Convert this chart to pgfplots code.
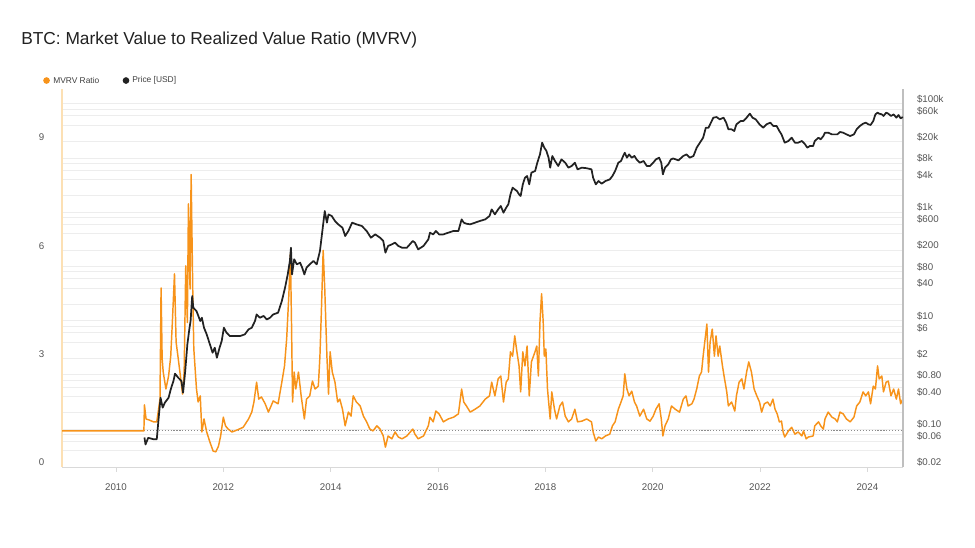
\documentclass[border=0pt]{standalone}
\usepackage{pgfplots}
\pgfplotsset{compat=1.18}
\usepackage{fontspec}
\setmainfont{Liberation Sans}
\definecolor{btcorange}{HTML}{F7931A}
\definecolor{pricecol}{HTML}{222222}
\definecolor{gridcol}{HTML}{EDEDED}
\definecolor{ticklab}{HTML}{555555}
\definecolor{leftaxis}{HTML}{FCE0B4}

\pgfplotstableread{
year mvrv
2008.994 1.0
2010.52 1.0
2010.53 1.72
2010.56 1.33
2010.62 1.30
2010.70 1.25
2010.76 1.25
2010.82 1.88
2010.84 4.96
2010.86 3.0
2010.88 2.63
2010.93 2.16
2010.98 2.52
2011.02 3.07
2011.05 4.0
2011.09 5.35
2011.12 3.46
2011.16 3.0
2011.20 2.52
2011.24 2.02
2011.27 2.63
2011.30 5.57
2011.33 4.0
2011.35 7.29
2011.38 4.93
2011.40 8.1
2011.43 4.93
2011.45 3.27
2011.50 2.16
2011.53 1.8
2011.57 1.97
2011.60 0.97
2011.64 1.33
2011.69 0.97
2011.75 0.69
2011.81 0.44
2011.86 0.42
2011.91 0.58
2011.95 0.86
2012.00 1.38
2012.04 1.14
2012.09 1.05
2012.16 0.97
2012.25 1.02
2012.37 1.10
2012.47 1.33
2012.53 1.52
2012.57 1.80
2012.62 2.35
2012.66 1.88
2012.71 1.94
2012.78 1.75
2012.84 1.52
2012.93 1.83
2013.02 1.75
2013.09 2.35
2013.14 2.8
2013.18 3.55
2013.22 4.74
2013.25 5.9
2013.27 4.02
2013.29 1.8
2013.32 2.63
2013.35 2.16
2013.40 2.63
2013.45 1.97
2013.51 1.33
2013.55 1.88
2013.61 1.97
2013.66 2.38
2013.71 2.16
2013.77 2.24
2013.80 3.07
2013.83 4.46
2013.86 6.0
2013.89 4.93
2013.93 3.07
2013.96 2.02
2013.99 3.19
2014.03 2.63
2014.08 2.35
2014.13 1.8
2014.17 1.88
2014.22 1.6
2014.27 1.14
2014.33 1.52
2014.38 1.41
2014.42 1.97
2014.48 1.8
2014.55 1.69
2014.61 1.41
2014.67 1.25
2014.73 1.05
2014.79 1.0
2014.86 1.14
2014.92 1.05
2014.98 0.86
2015.02 0.55
2015.07 0.86
2015.14 0.78
2015.20 0.97
2015.26 0.83
2015.33 0.78
2015.42 0.86
2015.53 1.05
2015.57 0.91
2015.63 0.78
2015.73 0.86
2015.82 1.14
2015.85 1.38
2015.91 1.25
2015.96 1.55
2016.02 1.47
2016.10 1.25
2016.19 1.33
2016.29 1.38
2016.38 1.47
2016.44 2.16
2016.48 1.8
2016.53 1.69
2016.60 1.52
2016.69 1.6
2016.78 1.69
2016.88 1.88
2016.96 1.97
2017.00 2.35
2017.06 1.97
2017.12 2.44
2017.17 2.52
2017.22 1.8
2017.27 2.35
2017.31 2.44
2017.35 3.19
2017.39 3.07
2017.43 3.63
2017.47 3.19
2017.51 2.8
2017.54 2.08
2017.58 3.19
2017.62 2.8
2017.66 3.35
2017.70 1.97
2017.74 2.91
2017.81 3.2
2017.84 3.35
2017.87 2.52
2017.90 4.02
2017.93 4.8
2017.96 4.02
2017.98 3.07
2018.01 3.27
2018.04 2.16
2018.09 1.33
2018.12 2.08
2018.17 1.6
2018.21 1.33
2018.27 1.69
2018.32 1.8
2018.37 1.41
2018.43 1.25
2018.49 1.33
2018.55 1.6
2018.60 1.25
2018.68 1.27
2018.77 1.33
2018.86 1.25
2018.89 0.97
2018.94 0.72
2018.99 0.83
2019.05 0.78
2019.12 0.86
2019.20 0.91
2019.25 1.14
2019.30 1.25
2019.36 1.6
2019.41 1.8
2019.45 1.97
2019.48 2.58
2019.52 2.16
2019.56 1.97
2019.61 2.1
2019.66 1.8
2019.70 1.69
2019.76 1.41
2019.83 1.6
2019.89 1.33
2019.95 1.27
2020.01 1.41
2020.06 1.6
2020.12 1.75
2020.16 1.33
2020.19 0.86
2020.23 1.14
2020.29 1.33
2020.35 1.69
2020.42 1.6
2020.50 1.52
2020.57 1.88
2020.62 1.97
2020.66 1.69
2020.73 1.75
2020.77 1.88
2020.82 2.16
2020.87 2.52
2020.91 2.63
2020.94 3.07
2020.97 3.46
2021.01 3.96
2021.04 2.63
2021.07 3.46
2021.11 3.82
2021.15 3.07
2021.18 3.63
2021.22 3.07
2021.25 3.35
2021.30 2.8
2021.33 2.52
2021.38 2.08
2021.41 1.69
2021.47 1.8
2021.53 1.55
2021.56 1.97
2021.61 2.35
2021.66 2.44
2021.70 2.16
2021.75 2.63
2021.79 2.91
2021.84 2.63
2021.89 2.16
2021.94 1.97
2021.99 1.8
2022.03 1.52
2022.08 1.75
2022.14 1.8
2022.19 1.69
2022.24 1.88
2022.28 1.6
2022.32 1.47
2022.36 1.25
2022.40 1.27
2022.43 0.97
2022.46 0.83
2022.53 1.0
2022.59 1.1
2022.65 0.91
2022.71 0.97
2022.78 0.86
2022.81 1.0
2022.86 0.78
2022.90 0.83
2022.99 0.86
2023.02 1.14
2023.09 1.25
2023.13 1.14
2023.18 1.05
2023.21 1.33
2023.27 1.52
2023.34 1.38
2023.40 1.33
2023.44 1.25
2023.49 1.52
2023.55 1.47
2023.61 1.33
2023.68 1.25
2023.75 1.38
2023.80 1.69
2023.86 1.8
2023.92 2.08
2023.97 1.97
2024.02 2.08
2024.06 1.75
2024.11 2.24
2024.15 2.16
2024.19 2.8
2024.22 2.44
2024.27 2.52
2024.30 2.08
2024.35 2.35
2024.39 2.38
2024.44 1.97
2024.49 2.16
2024.54 1.88
2024.58 2.16
2024.62 1.75
2024.66 1.88
}\mvrvtable

\pgfplotstableread{
year price
2010.53 0.07
2010.55 0.052
2010.60 0.069
2010.70 0.065
2010.76 0.065
2010.79 0.141
2010.83 0.379
2010.87 0.248
2010.91 0.306
2010.98 0.379
2011.02 0.54
2011.07 0.769
2011.10 1.05
2011.16 0.885
2011.22 0.769
2011.25 0.469
2011.29 1.18
2011.33 3.65
2011.37 7.4
2011.39 9.84
2011.42 28.4
2011.44 17.3
2011.50 15.0
2011.57 9.84
2011.60 11.3
2011.64 7.4
2011.69 5.57
2011.75 3.65
2011.80 2.56
2011.84 3.17
2011.88 2.07
2011.93 3.17
2011.97 4.21
2012.01 7.4
2012.06 5.98
2012.12 5.2
2012.22 5.2
2012.31 5.2
2012.40 5.57
2012.47 6.89
2012.53 7.4
2012.59 9.84
2012.62 13.0
2012.68 11.3
2012.75 12.2
2012.81 10.5
2012.87 11.3
2012.93 13.0
2013.02 14.0
2013.09 23.0
2013.15 40.5
2013.20 71.1
2013.24 126
2013.26 221
2013.28 71.1
2013.32 135
2013.37 109
2013.43 117
2013.47 94.6
2013.51 71.1
2013.55 94.6
2013.61 109
2013.68 126
2013.74 109
2013.80 192
2013.83 338
2013.86 596
2013.89 1050
2013.93 640
2013.96 910
2014.02 849
2014.08 687
2014.14 596
2014.22 516
2014.27 363
2014.33 450
2014.40 640
2014.48 596
2014.58 556
2014.67 450
2014.75 338
2014.83 389
2014.92 338
2014.98 294
2015.02 179
2015.07 238
2015.14 255
2015.20 274
2015.26 238
2015.33 221
2015.42 221
2015.53 294
2015.57 274
2015.63 206
2015.73 238
2015.82 315
2015.85 418
2015.91 389
2015.96 450
2016.02 389
2016.10 389
2016.19 418
2016.29 450
2016.38 450
2016.44 736
2016.48 640
2016.53 612
2016.60 596
2016.69 640
2016.78 687
2016.88 736
2016.96 849
2017.00 1125
2017.06 910
2017.12 1125
2017.17 1297
2017.22 977
2017.27 1208
2017.31 1390
2017.35 2128
2017.39 2825
2017.43 2630
2017.47 2455
2017.51 2128
2017.54 1986
2017.58 3251
2017.62 4315
2017.66 4645
2017.70 3251
2017.74 5346
2017.81 5741
2017.85 8166
2017.90 11614
2017.94 19099
2017.98 15453
2018.02 13428
2018.06 10093
2018.09 6607
2018.13 10864
2018.18 8770
2018.24 7096
2018.30 9397
2018.37 8166
2018.43 6607
2018.49 7096
2018.55 8166
2018.60 6152
2018.68 6607
2018.77 6457
2018.86 6152
2018.89 4315
2018.94 3251
2018.99 3750
2019.05 3350
2019.12 3750
2019.20 4018
2019.25 4645
2019.30 5741
2019.36 8166
2019.41 8770
2019.45 10864
2019.48 12474
2019.52 10093
2019.56 11614
2019.61 10093
2019.66 10864
2019.70 9397
2019.76 8166
2019.83 8770
2019.89 7096
2019.95 7096
2020.01 8166
2020.06 9397
2020.12 10093
2020.16 8166
2020.19 4977
2020.23 6607
2020.29 7603
2020.34 9397
2020.38 9772
2020.48 9016
2020.57 10864
2020.63 11614
2020.69 10093
2020.76 10864
2020.82 15453
2020.88 19099
2020.94 23605
2020.99 36058
2021.04 36058
2021.07 41591
2021.13 55208
2021.19 56754
2021.25 51404
2021.32 55208
2021.37 44668
2021.41 33651
2021.47 33651
2021.52 31333
2021.56 41591
2021.64 47973
2021.69 47973
2021.75 55208
2021.81 65464
2021.86 55208
2021.92 51404
2021.99 41591
2022.06 36058
2022.12 41591
2022.19 44668
2022.25 38726
2022.31 38726
2022.36 31333
2022.40 27164
2022.46 19099
2022.53 20512
2022.59 23605
2022.65 19099
2022.71 19099
2022.78 20512
2022.84 17783
2022.88 15453
2022.93 16596
2022.99 16596
2023.02 20512
2023.09 23605
2023.13 21979
2023.18 25351
2023.21 29174
2023.27 29174
2023.34 27164
2023.40 27164
2023.44 27164
2023.49 30061
2023.55 29174
2023.61 27164
2023.68 25351
2023.75 27164
2023.80 33651
2023.86 38726
2023.92 42756
2023.97 44668
2024.02 41591
2024.06 40458
2024.11 47973
2024.15 63533
2024.19 68234
2024.22 65464
2024.27 63533
2024.30 59293
2024.35 68234
2024.39 65464
2024.44 59293
2024.49 63533
2024.54 55208
2024.58 61802
2024.62 53580
2024.66 56754
}\pricetable

\pgfplotsset{
  mybase/.style={
    scale only axis, width=630.75pt, height=283.5pt,
    at={(46.5pt,60.75pt)}, anchor=south west,
    xmin=2008.994, xmax=2024.664, clip=true,
  },
  ticktext/.style={font=\fontsize{7.3}{8.5}\selectfont, text=ticklab},
}

\begin{document}
\begin{tikzpicture}
\path[use as bounding box] (0pt,0pt) rectangle (731.25pt,411pt);

% title
\node[anchor=base west, inner sep=0pt, font=\fontsize{13}{15}\selectfont, text=black!87]
  at (15.75pt,377.8pt) {BTC: Market Value to Realized Value Ratio (MVRV)};

% legend
\fill[btcorange] (34.9pt,350.6pt) circle (2.5pt);
\node[anchor=west, inner sep=0pt, font=\fontsize{6.3}{7}\selectfont, text=black!75]
  at (39.75pt,350.6pt) {MVRV Ratio};
\fill[pricecol] (94.5pt,350.6pt) circle (2.5pt);
\node[anchor=west, inner sep=0pt, font=\fontsize{6.3}{7}\selectfont, text=black!75]
  at (99pt,350.6pt) {Price [USD]};

% grid (price log axis)
\begin{axis}[mybase, ymode=log, ymin=0.02, ymax=186600,
  axis line style={draw=none}, xtick=\empty,
  ytick={0.04,0.06,0.08,0.1,0.2,0.4,0.6,0.8,1,2,4,6,8,10,20,40,60,80,100,200,400,600,800,1000,2000,4000,6000,8000,10000,20000,40000,60000,80000,100000},
  yticklabels={}, major tick length=0pt, ytick style={draw=none},
  ymajorgrids, grid style={draw=gridcol, line width=0.55pt}]
\addplot[draw=none] coordinates {(2010,1)};
\end{axis}

% MVRV axis
\begin{axis}[mybase, ymin=0, ymax=10.47,
  axis x line*=bottom, axis y line*=left,
  x axis line style={draw=black!15, line width=0.6pt},
  y axis line style={draw=leftaxis, line width=0.9pt},
  xtick={2010,2012,2014,2016,2018,2020,2022,2024},
  xticklabels={2010,2012,2014,2016,2018,2020,2022,2024},
  ytick={0,3,6,9}, yticklabels={0,3,6,9},
  tick align=outside, major tick length=3.75pt,
  xtick style={draw=black!15, line width=0.6pt},
  ytick style={draw=none},
  xticklabel style={ticktext, yshift=-5pt},
  yticklabel style={ticktext, xshift=-6pt, yshift=3.5pt},
]
\addplot[black!45, line width=0.6pt, dash pattern=on 0.9pt off 1.3pt] coordinates {(2008.994,1) (2024.664,1)};
\addplot[btcorange, line width=1.1pt, line join=round, mark=none] table[x=year, y=mvrv] {\mvrvtable};
\end{axis}

% price axis
\begin{axis}[mybase, ymode=log, ymin=0.02, ymax=186600,
  axis y line*=right, axis x line=none,
  y axis line style={draw=black!25, line width=0.8pt},
  ytick={0.02,0.06,0.1,0.4,0.8,2,6,10,40,80,200,600,1000,4000,8000,20000,60000,100000},
  yticklabels={\$0.02,\$0.06,\$0.10,\$0.40,\$0.80,\$2,\$6,\$10,\$40,\$80,\$200,\$600,\$1k,\$4k,\$8k,\$20k,\$60k,\$100k},
  major tick length=0pt, ytick style={draw=none},
  yticklabel style={ticktext, xshift=7pt, yshift=3.5pt},
]
\addplot[pricecol, line width=1.3pt, line join=round, mark=none] table[x=year, y=price] {\pricetable};
\end{axis}
\end{tikzpicture}
\end{document}
